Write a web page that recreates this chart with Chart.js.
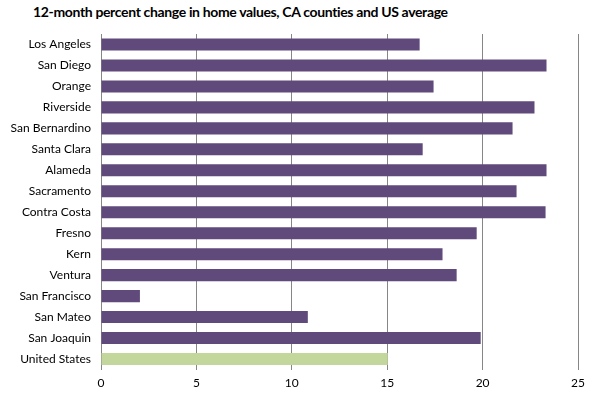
<!DOCTYPE html>
<html lang="en">
<head>
  <meta charset="UTF-8" />
  <title>12-month percent change in home values</title>
  <script src="https://cdn.jsdelivr.net/npm/chart.js"></script>
  <style>
    body { margin: 0; background: #fff; }
    .wrap { position: relative; width: 591px; height: 397px; }
    .title { position: absolute; left: 33px; top: 3px; font: bold 14px Lato, sans-serif; letter-spacing: -0.35px; color: #000; white-space: nowrap; }
    canvas { position: absolute; left: 0; top: 0; }
  </style>
</head>
<body>
  <div class="wrap">
    <div class="title" id="title">12-month percent change in home values, CA counties and US average</div>
    <canvas id="chart" width="591" height="397"></canvas>
  </div>
  <script>
    // Kategorien und Werte (Prozent)
    const counties = ['Los Angeles', 'San Diego', 'Orange', 'Riverside', 'San Bernardino', 'Santa Clara',
      'Alameda', 'Sacramento', 'Contra Costa', 'Fresno', 'Kern', 'Ventura', 'San Francisco',
      'San Mateo', 'San Joaquin', 'United States'];
    const changes = [16.7, 23.35, 17.43, 22.72, 21.57, 16.86, 23.35, 21.78, 23.3, 19.69, 17.9, 18.64,
      2.04, 10.84, 19.9, 15.03];
    const xTicks = [0, 5, 10, 15, 20, 25];

    const purple = '#604A7B';
    const green = '#C3D69B';
    const colors = counties.map(c => c === 'United States' ? green : purple);

    new Chart(document.getElementById('chart').getContext('2d'), {
      type: 'bar',
      data: {
        labels: counties,
        datasets: [{ data: changes, backgroundColor: colors, categoryPercentage: 1, barPercentage: 0.575 }]
      },
      options: {
        indexAxis: 'y',
        responsive: false,
        animation: false,
        layout: { padding: { top: 34, right: 13, left: 0, bottom: 0 } },
        plugins: { legend: { display: false }, tooltip: { enabled: false } },
        scales: {
          x: {
            min: 0, max: 25,
            afterBuildTicks: ax => { ax.ticks = xTicks.map(v => ({ value: v })); },
            afterFit: ax => { ax.height = 27.5; },
            grid: { color: '#868686', drawTicks: false },
            border: { display: false },
            ticks: { color: '#000', padding: 6, font: { family: 'Lato', size: 12 } }
          },
          y: {
            afterFit: ax => { ax.width = 101; },
            grid: { display: false, drawTicks: false },
            border: { display: true, color: '#868686' },
            ticks: { color: '#000', padding: 10, font: { family: 'Lato', size: 12 } }
          }
        }
      }
    });
  </script>
</body>
</html>
